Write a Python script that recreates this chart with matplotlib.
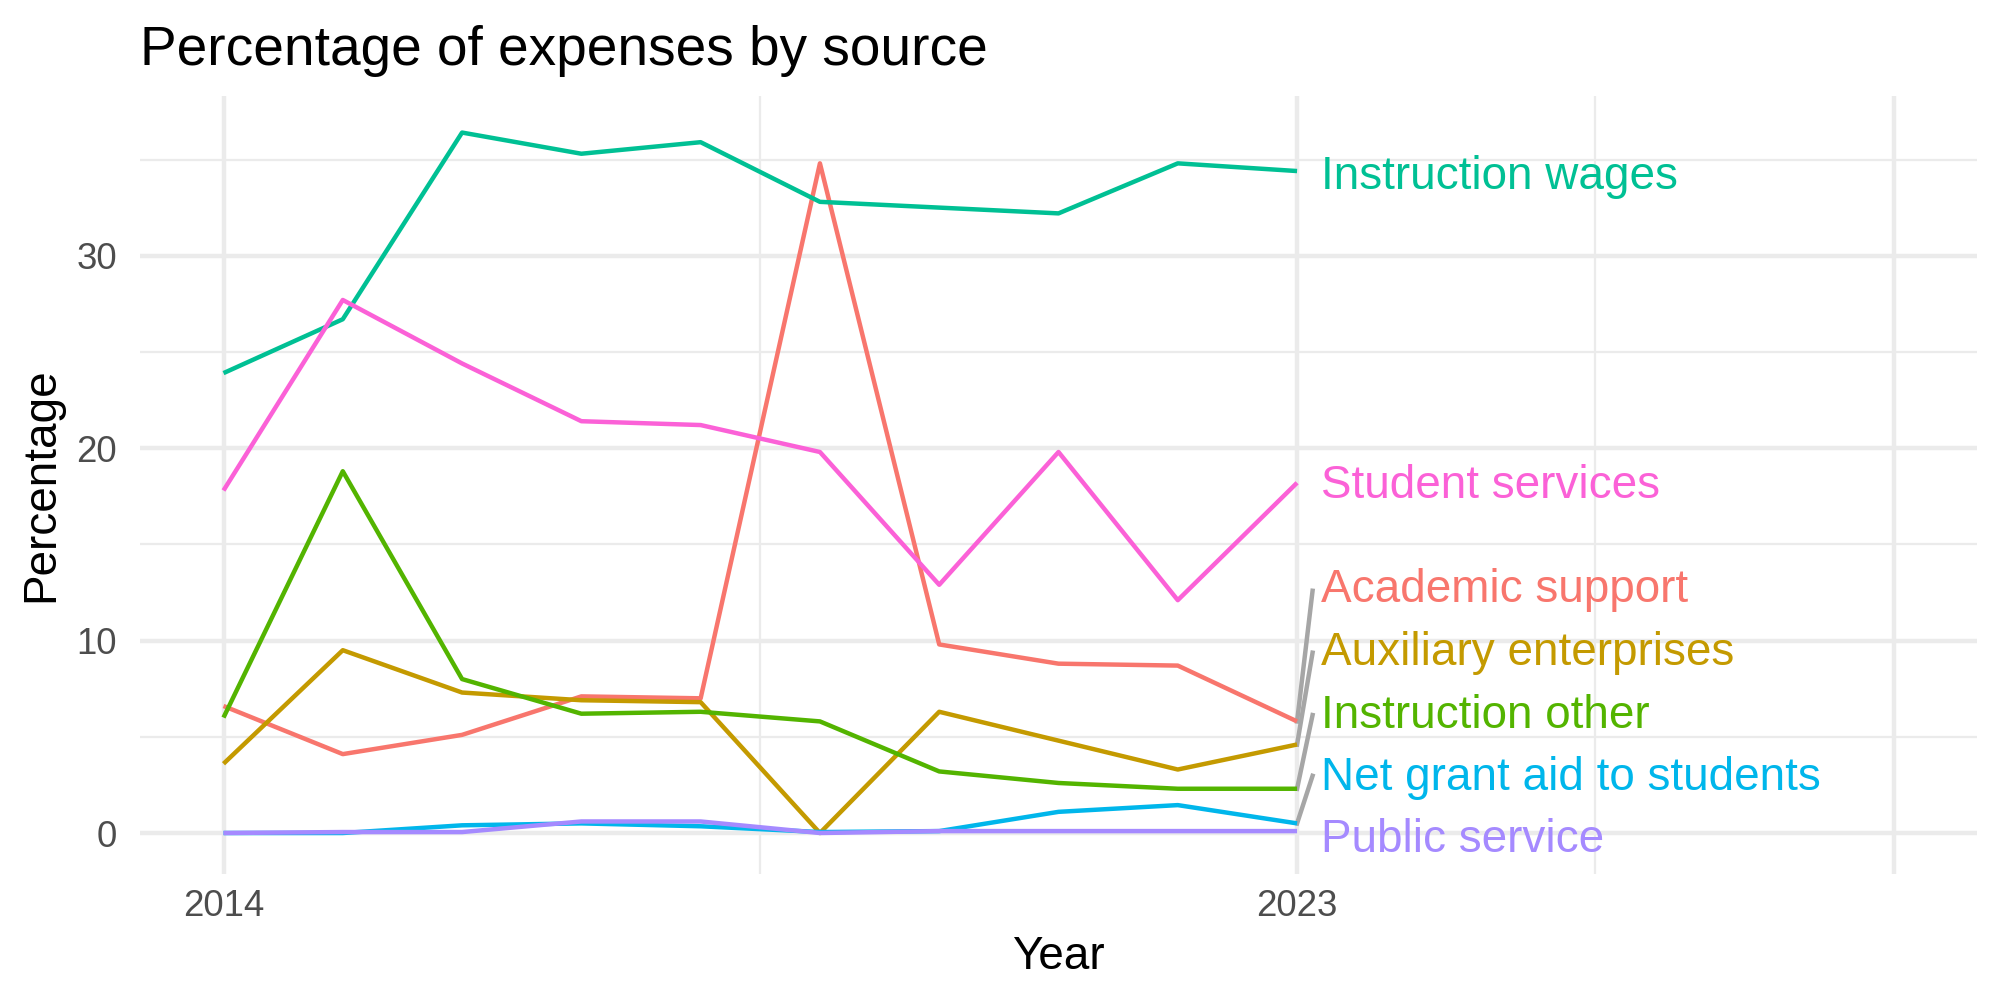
import matplotlib
matplotlib.use("Agg")
import matplotlib.pyplot as plt
from matplotlib.ticker import FixedLocator
from matplotlib.transforms import offset_copy

plt.rcParams['font.family'] = ['Liberation Sans', 'DejaVu Sans']

years = [2014, 2015, 2016, 2017, 2018, 2019, 2020, 2021, 2022, 2023]
sources = ["Academic support", "Auxiliary enterprises", "Instruction other",
           "Instruction wages", "Net grant aid to students", "Public service",
           "Student services"]
academic_support = [6.6, 4.1, 5.1, 7.1, 7.0, 34.8, 9.8, 8.8, 8.7, 5.8]
auxiliary_enterprises = [3.6, 9.5, 7.3, 6.9, 6.8, 0.0, 6.3, 4.8, 3.3, 4.6]
instruction_other = [6.0, 18.8, 8.0, 6.2, 6.3, 5.8, 3.2, 2.6, 2.3, 2.3]
instruction_wages = [23.9, 26.7, 36.4, 35.3, 35.9, 32.8, 32.5, 32.2, 34.8, 34.4]
net_grant_aid = [0.0, 0.0, 0.4, 0.5, 0.35, 0.05, 0.1, 1.1, 1.45, 0.5]
public_service = [0.0, 0.05, 0.05, 0.6, 0.6, 0.0, 0.1, 0.1, 0.1, 0.1]
student_services = [17.8, 27.7, 24.4, 21.4, 21.2, 19.8, 12.9, 19.8, 12.1, 18.2]
series = [academic_support, auxiliary_enterprises, instruction_other,
          instruction_wages, net_grant_aid, public_service, student_services]
colors = ["#F8766D", "#C49A00", "#53B400", "#00C094", "#00B6EB", "#A58AFF", "#FB61D7"]
# repelled label positions (y, in data units)
label_y = [12.85, 9.57, 6.3, 34.3, 3.1, -0.15, 18.25]

x_major = [2014, 2023, 2028]
x_tick_labels = ["2014", "2023", ""]
x_minor = [2018.5, 2025.5]
y_major = [0, 10, 20, 30]
y_minor = [5, 15, 25, 35]

fig = plt.figure(figsize=(2000/300, 1000/300), dpi=300)
ax = fig.add_axes([0.07, 0.126, 0.9185, 0.778])
ax.set_xlim(2013.3, 2028.7)
ax.set_ylim(-2.13, 38.3)

ax.xaxis.set_major_locator(FixedLocator(x_major))
ax.set_xticklabels(x_tick_labels)
ax.xaxis.set_minor_locator(FixedLocator(x_minor))
ax.yaxis.set_major_locator(FixedLocator(y_major))
ax.yaxis.set_minor_locator(FixedLocator(y_minor))
ax.grid(which='major', color='#EBEBEB', linewidth=1.07)
ax.grid(which='minor', color='#EBEBEB', linewidth=0.53)
ax.set_axisbelow(True)
for s in ax.spines.values():
    s.set_visible(False)
ax.tick_params(which='both', length=0)
ax.tick_params(axis='both', labelsize=8.8, labelcolor='#4D4D4D')
ax.tick_params(axis='y', pad=5.5)
ax.tick_params(axis='x', pad=3.5)

for vals, c in zip(series, colors):
    ax.plot(years, vals, color=c, linewidth=1.07, solid_capstyle='butt', zorder=3)

x_last = years[-1]
text_tr = offset_copy(ax.transData, fig=fig, x=0, y=-1.0, units='points')
for name, vals, c, ly in zip(sources, series, colors, label_y):
    yd = vals[-1]
    if abs(ly - yd) > 1.0:
        end_y = ly - min(0.6, 0.03 * (ly - yd) + 0.05)
        ax.plot([x_last, x_last + 0.13], [yd, end_y], color='#A6A6A6',
                linewidth=1.07, zorder=2)
    ax.text(x_last + 0.2, ly, name, color=c, fontsize=11, va='center', ha='left',
            zorder=4, transform=text_tr)

ax.set_xlabel("Year", fontsize=11, color='black')
ax.set_ylabel("Percentage", fontsize=11, color='black')
ax.xaxis.set_label_coords(0.5, -0.078)
ax.yaxis.set_label_coords(-0.042, 0.5)

fig.text(0.07, 1 - 65/1000, "Percentage of expenses by source", fontsize=13.2,
         ha='left', va='baseline', color='black')

fig.savefig("out.png", dpi=300, facecolor='white')
